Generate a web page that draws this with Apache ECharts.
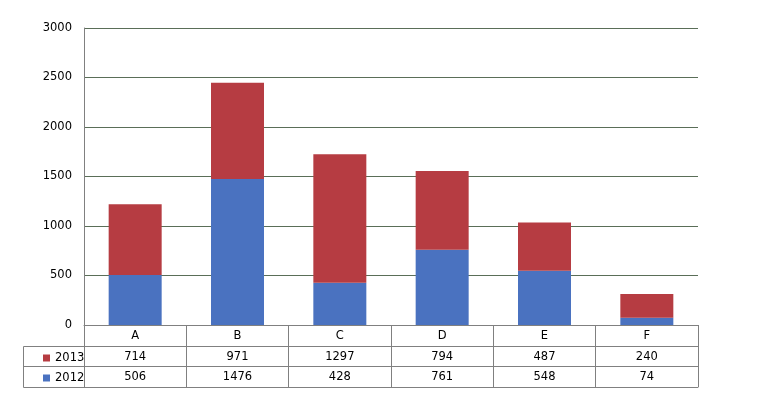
<!DOCTYPE html>
<html><head><meta charset="utf-8">
<script src="https://cdn.jsdelivr.net/npm/echarts@6/dist/echarts.min.js"></script>
<style>html,body{margin:0;padding:0;background:#fff}#c{width:764px;height:409px}</style>
</head><body><div id="c"></div>
<script>
const categories = ['A','B','C','D','E','F'];
const values2012 = [506, 1476, 428, 761, 548, 74];
const values2013 = [714, 971, 1297, 794, 487, 240];
const seriesNames = ['2012', '2013'];
const yTicks = {min: 0, max: 3000, interval: 500};

const FONT = 'DejaVu Sans';
const LINE = '#808080';
const chart = echarts.init(document.getElementById('c'), null, {renderer: 'canvas'});

function tableAxis(offset, tickLen, labels) {
  return {
    type: 'category', data: categories, position: 'bottom', offset: offset,
    boundaryGap: true,
    axisLine: {show: true, lineStyle: {color: LINE, width: 1}},
    axisTick: {show: tickLen > 0, length: tickLen, interval: 0, alignWithLabel: false, lineStyle: {color: LINE}},
    axisLabel: {show: !!labels, interval: 0, margin: 5, color: '#000', fontFamily: FONT, fontSize: 11.5,
      formatter: (v, i) => labels ? String(labels[i]) : ''}
  };
}

chart.setOption({
  animation: false,
  grid: {left: 84, right: 66, top: 28, bottom: 84, containLabel: false},
  legend: {
    orient: 'vertical', left: 43, top: 348, itemGap: 0, itemWidth: 7, itemHeight: 7,
    icon: 'rect', data: ['2013', '2012'],
    textStyle: {fontFamily: FONT, fontSize: 11.5, color: '#000', lineHeight: 20, padding: [0,0,0,0]},
    selectedMode: false, padding: 0
  },
  xAxis: [
    tableAxis(0, 21, categories),
    tableAxis(21, 20, values2013),
    tableAxis(41, 21, values2012),
    tableAxis(62, 0, null)
  ],
  yAxis: {
    type: 'value', min: yTicks.min, max: yTicks.max, interval: yTicks.interval,
    axisLine: {show: true, lineStyle: {color: LINE}},
    axisTick: {show: false},
    axisLabel: {color: '#000', fontFamily: FONT, fontSize: 11.5, margin: 12, formatter: v => String(v)},
    splitLine: {show: true, lineStyle: {color: '#5a6e58', width: 1}}
  },
  series: [
    {name: seriesNames[0], type: 'bar', stack: 's', xAxisIndex: 0, data: values2012, barWidth: 53,
      itemStyle: {color: '#4a72c0'}},
    {name: seriesNames[1], type: 'bar', stack: 's', xAxisIndex: 0, data: values2013, barWidth: 53,
      itemStyle: {color: '#b63c42'}}
  ],
  graphic: [
    {type: 'rect', shape: {x: 23.5, y: 346.5, width: 61, height: 41}, style: {fill: null, stroke: LINE, lineWidth: 1}, silent: true},
    {type: 'line', shape: {x1: 23.5, y1: 366.5, x2: 84.5, y2: 366.5}, style: {stroke: LINE, lineWidth: 1}, silent: true}
  ]
});
</script></body></html>
